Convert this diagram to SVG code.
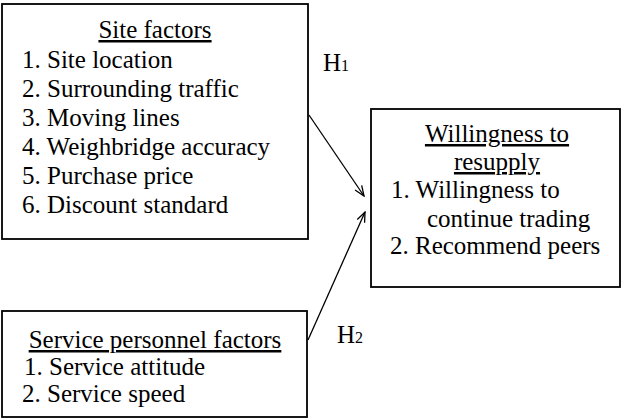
<svg xmlns="http://www.w3.org/2000/svg" width="622" height="420" viewBox="0 0 622 420">
<style>
.box{fill:#fff;stroke:#000;stroke-width:1.8}
text{font-family:"Liberation Serif","Times New Roman",serif;font-size:25px;fill:#000}
.t{text-anchor:middle;text-decoration:underline}
.sub{font-size:16px}
.conn{stroke:#000;stroke-width:1.3;fill:none}
</style>
<defs>
<marker id="arr" viewBox="0 0 12 10" refX="11" refY="5" markerWidth="12" markerHeight="10" markerUnits="userSpaceOnUse" orient="auto">
<path d="M1,1 L11,5 L1,9" fill="none" stroke="#000" stroke-width="1.3"/>
</marker>
</defs>
<rect width="622" height="420" fill="#fff"/>
<g id="site-factors">
<rect class="box" x="2" y="4" width="306" height="235"/>
<text class="t" x="155" y="38">Site factors</text>
<text x="22" y="68">1. Site location</text>
<text x="22" y="97">2. Surrounding traffic</text>
<text x="22" y="126">3. Moving lines</text>
<text x="22" y="155">4. Weighbridge accuracy</text>
<text x="22" y="184">5. Purchase price</text>
<text x="22" y="213">6. Discount standard</text>
</g>
<g id="service-personnel-factors">
<rect class="box" x="2" y="311" width="305" height="106"/>
<text class="t" x="155" y="348">Service personnel factors</text>
<text x="24" y="375">1. Service attitude</text>
<text x="22" y="402">2. Service speed</text>
</g>
<g id="willingness-to-resupply">
<rect class="box" x="371" y="109" width="249" height="178"/>
<text class="t" x="497" y="142">Willingness to</text>
<text class="t" x="497" y="170">resupply</text>
<text x="391" y="198">1. Willingness to</text>
<text x="427" y="227">continue trading</text>
<text x="390" y="254">2. Recommend peers</text>
</g>
<g id="connectors">
<line class="conn" x1="309" y1="115" x2="364" y2="196" marker-end="url(#arr)"/>
<line class="conn" x1="308" y1="340" x2="365" y2="212" marker-end="url(#arr)"/>
<text x="323" y="71">H<tspan class="sub">1</tspan></text>
<text x="337" y="343">H<tspan class="sub">2</tspan></text>
</g>
</svg>
